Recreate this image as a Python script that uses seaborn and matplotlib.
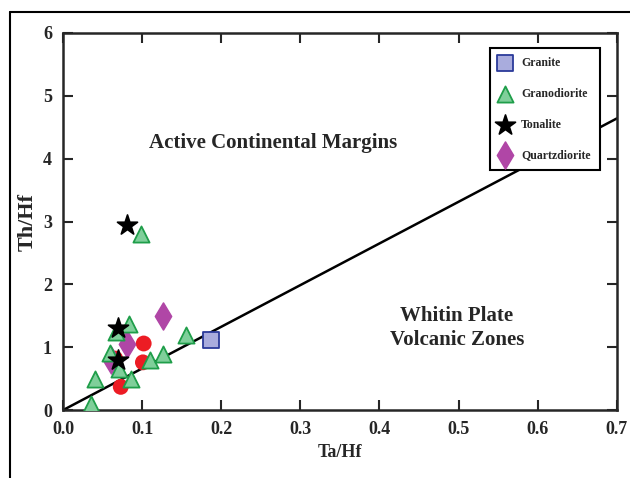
import numpy as np
import pandas as pd
import matplotlib
matplotlib.use("Agg")
import matplotlib.pyplot as plt
import seaborn as sns
from matplotlib.lines import Line2D

# Data (Ta/Hf vs Th/Hf)
granite_x = [0.187]
granite_y = [1.11]

granodiorite_x = [0.098, 0.083, 0.067, 0.155, 0.059, 0.071, 0.110, 0.126, 0.086, 0.040, 0.036]
granodiorite_y = [2.80, 1.37, 1.25, 1.19, 0.91, 0.66, 0.79, 0.89, 0.49, 0.49, 0.10]

tonalite_x = [0.081, 0.069, 0.069]
tonalite_y = [2.94, 1.31, 0.79]

quartzdiorite_x = [0.126, 0.081, 0.061]
quartzdiorite_y = [1.50, 1.05, 0.80]

other_x = [0.102, 0.066, 0.101, 0.073]
other_y = [1.06, 0.82, 0.76, 0.37]

boundary_x = [0.0, 0.7]
boundary_y = [0.0, 4.64]

sns.set_style("ticks")
plt.rcParams["font.family"] = ["Liberation Serif", "DejaVu Serif"]
plt.rcParams["font.weight"] = "bold"

fig = plt.figure(figsize=(6.3, 4.78), dpi=100)
ax = fig.add_axes([0.1, 0.142, 0.879, 0.789])

# outer frame around the figure
fig.add_artist(Line2D([10 / 630, 10 / 630], [0, 1 - 12 / 478], color="black", lw=1.5, transform=fig.transFigure))
fig.add_artist(Line2D([10 / 630, 1], [1 - 12 / 478, 1 - 12 / 478], color="black", lw=1.5, transform=fig.transFigure))

# boundary line
ax.plot(boundary_x, boundary_y, color="black", lw=1.8, zorder=2)

sns.scatterplot(x=other_x, y=other_y, ax=ax, marker="o", s=130, color="#ec1c24",
                edgecolor="none", legend=False, zorder=3)
sns.scatterplot(x=quartzdiorite_x, y=quartzdiorite_y, ax=ax, marker="d", s=190, color="#b046a6",
                edgecolor="#b046a6", label="Quartzdiorite", zorder=4)
sns.scatterplot(x=granodiorite_x, y=granodiorite_y, ax=ax, marker="^", s=135, color="#7fcf9a",
                edgecolor="#1f9e4a", linewidth=1.3, label="Granodiorite", zorder=5)
sns.scatterplot(x=tonalite_x, y=tonalite_y, ax=ax, marker="*", s=230, color="black",
                edgecolor="black", label="Tonalite", zorder=6)
sns.scatterplot(x=granite_x, y=granite_y, ax=ax, marker="s", s=140, color="#a9acdd",
                edgecolor="#2b3a9a", linewidth=1.3, label="Granite", zorder=6)

ax.set_xlim(0, 0.7)
ax.set_ylim(0, 6)
ax.set_xticks(np.arange(0, 0.71, 0.1))
ax.set_xticklabels([f"{v:.1f}" for v in np.arange(0, 0.71, 0.1)])
ax.set_yticks(range(0, 7))
ax.tick_params(direction="in", length=7, width=1.5, top=True, right=True,
               labelsize=13, pad=8)
for lab in ax.get_xticklabels() + ax.get_yticklabels():
    lab.set_fontweight("bold")
for sp in ax.spines.values():
    sp.set_linewidth(1.8)

ax.set_xlabel("Ta/Hf", fontsize=13, fontweight="bold", labelpad=4)
ax.set_ylabel("Th/Hf", fontsize=16, fontweight="bold", labelpad=4)

ax.text(0.265, 4.25, "Active Continental Margins", ha="center", va="center",
        fontsize=15, fontweight="bold")
ax.text(0.498, 1.31, "Whitin Plate\nVolcanic Zones", ha="center", va="center",
        fontsize=15, fontweight="bold", linespacing=1.3)

handles, labels = ax.get_legend_handles_labels()
order = ["Granite", "Granodiorite", "Tonalite", "Quartzdiorite"]
hmap = dict(zip(labels, handles))
leg = ax.legend([hmap[k] for k in order], order, loc="upper right",
                bbox_to_anchor=(0.969, 0.96), borderaxespad=0, frameon=True, fancybox=False,
                framealpha=1, edgecolor="black", prop={"weight": "bold", "size": 8.5},
                handletextpad=0.9, borderpad=0.75, labelspacing=1.6, handlelength=1.0,
                markerscale=1.0)
leg.get_frame().set_linewidth(1.5)
leg.set_zorder(10)

fig.savefig("out.png", dpi=100)
